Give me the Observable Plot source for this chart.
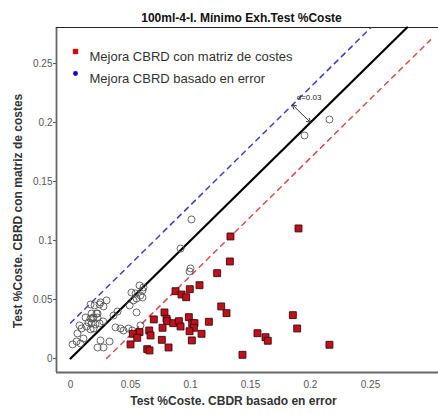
<!DOCTYPE html>
<html><head><meta charset="utf-8">
<script src="https://cdn.jsdelivr.net/npm/d3@7"></script>
<script src="https://cdn.jsdelivr.net/npm/@observablehq/plot@0.6"></script>
<style>body{margin:0;background:#fff}</style>
</head><body><div id="chart"></div>
<script>
const title = "100ml-4-I. Mínimo Exh.Test %Coste";
const xLabel = "Test %Coste. CBDR basado en error";
const yLabel = "Test %Coste. CBRD con matriz de costes";
const legendLabels = ["Mejora CBRD con matriz de costes", "Mejora CBRD basado en error"];
const xTicks = [0, 0.05, 0.1, 0.15, 0.2, 0.25];
const xTickLabels = ["0", "0.05", "0.1", "0.15", "0.2", "0.25"];
const yTicks = [0, 0.05, 0.1, 0.15, 0.2, 0.25];
const yTickLabels = ["0", "0.05", "0.1", "0.15", "0.2", "0.25"];
const xDomain = [-0.0117, 0.3067];
const yDomain = [-0.0119, 0.2805];

// open circles: CBRD basado en error better
const circX = [0.0017,0.005,0.0058,0.0075,0.0083,0.0092,0.0108,0.0125,0.015,0.0133,0.0167,0.0183,0.0175,0.0208,0.0192,0.0167,0.02,0.025,0.0225,0.0167,0.0225,0.0275,0.025,0.0325,0.03,0.0358,0.0392,0.0375,0.0417,0.0442,0.0483,0.055,0.0583,0.0492,0.0525,0.055,0.0583,0.06,0.0608,0.0575,0.0508,0.0542,0.06,0.1,0.0992,0.0917,0.1008,0.195,0.2158,0.0242,0.0275,0.0175,0.0217,0.0192,0.0225,0.0242,0.0272,0.0514];
const circY = [0.0119,0.0144,0.0212,0.028,0.0127,0.0254,0.0169,0.0347,0.0305,0.0271,0.0339,0.0339,0.0297,0.0288,0.0254,0.0458,0.0449,0.0475,0.0381,0.0246,0.0093,0.0093,0.0153,0.0144,0.0492,0.0364,0.0398,0.0263,0.0254,0.0237,0.0254,0.039,0.028,0.0449,0.0492,0.0508,0.0534,0.0576,0.0602,0.0619,0.0559,0.0551,0.0517,0.0763,0.0737,0.0932,0.1178,0.189,0.2025,0.0458,0.0441,0.0381,0.0381,0.0347,0.0347,0.0297,0.0314,0.0237];

// filled squares: CBRD con matriz de costes better
const sqX = [0.1222,0.1075,0.0994,0.0875,0.0925,0.0964,0.1256,0.13,0.0783,0.0694,0.08,0.0806,0.0856,0.0903,0.0917,0.0986,0.1014,0.1033,0.1028,0.0992,0.1153,0.1092,0.0767,0.0656,0.0667,0.0575,0.0519,0.0556,0.0761,0.1011,0.05,0.0817,0.0639,0.0658,0.1853,0.1889,0.1558,0.1625,0.1644,0.1433,0.2158,0.1328,0.1333,0.19];
const sqY = [0.0723,0.0621,0.0587,0.057,0.0542,0.0519,0.0441,0.0384,0.039,0.0331,0.0336,0.0316,0.0299,0.0316,0.0271,0.035,0.0299,0.0299,0.026,0.0231,0.0311,0.0209,0.026,0.0237,0.0195,0.0223,0.0209,0.0175,0.0158,0.0153,0.0119,0.0093,0.0079,0.0068,0.0367,0.0254,0.0214,0.018,0.015,0.0031,0.0116,0.0822,0.1034,0.1102];

// reference lines y = x + offset
const lineOffsets = [0, 0.03, -0.03];
const lineStartX = [0, 0, 0.03];
const lineEndX = [0.2805, 0.2505, 0.3];
const lineColors = ["#000000", "#3b3bd0", "#d94a4a"];

const arrowFrom = [0.2, 0.2];
const arrowTo = [0.185, 0.215];
const arrowLabel = "d=0.03";
const arrowLabelPos = [0.1885, 0.2215];

const circles = circX.map((x, i) => ({x, y: circY[i]}));
const squares = sqX.map((x, i) => ({x, y: sqY[i]}));
const lines = lineOffsets.flatMap((o, k) => [
  {k, x: lineStartX[k], y: lineStartX[k] + o},
  {k, x: lineEndX[k], y: lineEndX[k] + o}
]);
const mid = [(arrowFrom[0] + arrowTo[0]) / 2, (arrowFrom[1] + arrowTo[1]) / 2];

const chart = Plot.plot({
  width: 438, height: 414,
  marginTop: 27, marginLeft: 56, marginRight: 0, marginBottom: 42,
  style: {fontFamily: "Liberation Sans, Arial, sans-serif", background: "#fff"},
  x: {domain: xDomain},
  y: {domain: yDomain},
  marks: [
    Plot.axisX({ticks: xTicks, tickFormat: (d, i) => xTickLabels[i], tickSize: 0, tickPadding: 8, fontSize: 10, color: "#555", label: null}),
    Plot.axisY({ticks: yTicks, tickFormat: (d, i) => yTickLabels[i], tickSize: 3, tickPadding: 1, fontSize: 10, color: "#555", label: null}),
    Plot.ruleX([xDomain[0]], {stroke: "#666", strokeWidth: 1.8}),
    Plot.ruleY([yDomain[0]], {stroke: "#666", strokeWidth: 1.8}),
    Plot.ruleY([yDomain[1]], {stroke: "#222", strokeWidth: 1}),
    Plot.line(lines.filter(d => d.k === 1), {x: "x", y: "y", stroke: lineColors[1], strokeWidth: 1.5, strokeDasharray: "5,5"}),
    Plot.line(lines.filter(d => d.k === 2), {x: "x", y: "y", stroke: lineColors[2], strokeWidth: 1.5, strokeDasharray: "5,5"}),
    Plot.line(lines.filter(d => d.k === 0), {x: "x", y: "y", stroke: lineColors[0], strokeWidth: 2.2}),
    Plot.dot(circles, {x: "x", y: "y", r: 3.5, stroke: "#555", strokeWidth: 0.9, fill: "none"}),
    Plot.dot(squares, {x: "x", y: "y", symbol: "square", r: 3.9, fill: "#c0101c", stroke: "#3a0a0a", strokeWidth: 0.9}),
    Plot.arrow([0], {x1: mid[0], y1: mid[1], x2: arrowTo[0], y2: arrowTo[1], stroke: "#333", strokeWidth: 1, headLength: 7}),
    Plot.arrow([0], {x1: mid[0], y1: mid[1], x2: arrowFrom[0], y2: arrowFrom[1], stroke: "#333", strokeWidth: 1, headLength: 7}),
    Plot.text([arrowLabel], {x: arrowLabelPos[0], y: arrowLabelPos[1], text: d => d, textAnchor: "start", fontSize: 8, fill: "#222"}),
    Plot.dot([0], {frameAnchor: "top-left", dx: 19, dy: 24, symbol: "square", r: 3, fill: "#e00000"}),
    Plot.dot([0], {frameAnchor: "top-left", dx: 19, dy: 46, r: 2.4, fill: "#0000dd"}),
    Plot.text([legendLabels[0]], {frameAnchor: "top-left", dx: 33, dy: 24, text: d => d, textAnchor: "start", fontSize: 13, fill: "#333"}),
    Plot.text([legendLabels[1]], {frameAnchor: "top-left", dx: 33, dy: 46, text: d => d, textAnchor: "start", fontSize: 13, fill: "#333"}),
    Plot.text([title], {frameAnchor: "top", dx: -6, dy: -14, text: d => d, textAnchor: "middle", fontSize: 12, fontWeight: "bold", fill: "#111"}),
    Plot.text([xLabel], {frameAnchor: "bottom", dx: -14, dy: 32, text: d => d, textAnchor: "middle", fontSize: 12, fontWeight: "bold", fill: "#333"}),
    Plot.text([yLabel], {frameAnchor: "left", dx: -38, dy: 11, rotate: -90, text: d => d, textAnchor: "middle", fontSize: 12, fontWeight: "bold", fill: "#333"})
  ]
});
document.getElementById("chart").appendChild(chart);
</script>
</body></html>
